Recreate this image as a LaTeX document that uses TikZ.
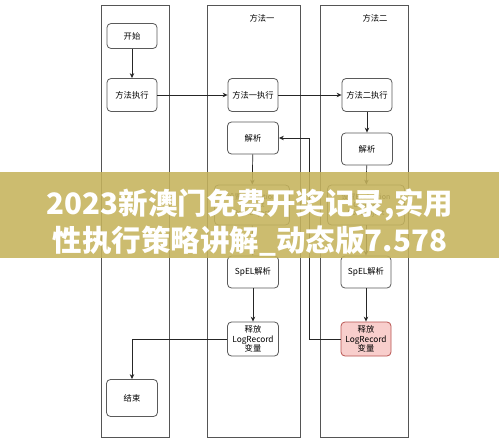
\documentclass[tikz,border=0pt]{standalone}
\usepackage{fontspec}
\setmainfont{Liberation Sans}
\newfontfamily\cjk{Noto Sans CJK SC}
\usetikzlibrary{arrows.meta}
\definecolor{laneline}{RGB}{85,85,85}
\definecolor{boxline}{RGB}{90,90,90}
\definecolor{pinkfill}{RGB}{248,206,204}
\definecolor{pinkline}{RGB}{184,84,80}
\definecolor{bannerc}{RGB}{197,179,92}
\begin{document}
\begin{tikzpicture}[x=1pt,y=-1pt,
  lane/.style={draw=laneline, line width=0.9pt, fill=white, inner sep=0pt},
  box/.style={draw=boxline, line width=0.8pt, rounded corners=4pt, fill=white, align=center,
    inner sep=1pt, font=\cjk\fontsize{8.3}{9.5}\selectfont},
  hot/.style={box, fill=pinkfill, draw=pinkline},
  title/.style={font=\cjk\fontsize{8.3}{9.5}\selectfont},
  arr/.style={-{Stealth[length=5pt,width=4.5pt]}, draw=black!85, line width=0.7pt},
  bantext/.style={text=white, font=\cjk\bfseries\fontsize{29.5}{31}\selectfont}]
\useasboundingbox (0,0) rectangle (499,444);
\fill[white] (0,0) rectangle (499,444);
% lanes
\node[lane, minimum width=68pt, minimum height=432pt] (L0) at (135,221) {};
\node[lane, minimum width=93pt, minimum height=432pt] (L1) at (253.5,221) {};
\node[lane, minimum width=88pt, minimum height=432pt] (L2) at (364,221) {};
\node[title] (T1) at (262,18) {方法一};
\node[title] (T2) at (375,18) {方法二};
% nodes
\node[box, minimum width=50pt, minimum height=25pt] (start) at (132,36) {开始};
\node[box, minimum width=50pt, minimum height=33pt] (exec) at (132,95) {方法执行};
\node[box, minimum width=50pt, minimum height=33pt] (m1) at (253,95) {方法一执行};
\node[box, minimum width=50pt, minimum height=33pt] (m2) at (367,95) {方法二执行};
\node[box, minimum width=51pt, minimum height=32pt] (p1) at (253,138) {解析};
\node[box, minimum width=51pt, minimum height=32pt] (p2) at (367,149) {解析};
\node[box, minimum width=75pt, minimum height=40pt, font=\cjk\fontsize{7}{8}\selectfont] (h1) at (252,205) {设置Evaluation\\Context\\RootObject};
\node[box, minimum width=77pt, minimum height=40pt, font=\cjk\fontsize{7}{8}\selectfont] (h2) at (366,205) {设置Evaluation\\Context\\RootObject};
\node[box, minimum width=51pt, minimum height=32pt] (s1) at (253,272) {SpEL解析};
\node[box, minimum width=50pt, minimum height=32pt] (s2) at (366,272) {SpEL解析};
\node[box, minimum width=51pt, minimum height=34pt] (r1) at (253,339) {释放\\LogRecord\\变量};
\node[hot, minimum width=50pt, minimum height=34pt] (r2) at (366,339) {释放\\LogRecord\\变量};
\node[box, minimum width=51pt, minimum height=37pt] (end) at (132,398) {结束};
% connectors
\draw[arr] (start) -- (exec);
\draw[arr] (exec) -- (m1);
\draw[arr] (m1) -- (m2);
\draw[arr] (m2) -- (p2);
\draw[arr] (p2) -- (h2);
\draw[arr] (h2) -- (s2);
\draw[arr] (s2) -- (r2);
\draw[arr] (r2.west) -- ++(-31,0) |- (p1.east);
\draw[arr] (p1) -- (h1);
\draw[arr] (h1) -- (s1);
\draw[arr] (s1) -- (r1);
\draw[arr] (r1.west) -| (end.north);
% banner
\fill[bannerc, fill opacity=0.88] (0,172) rectangle (499,258);
\node[bantext] (B1) at (250,205) {2023新澳门免费开奖记录,实用};
\node[bantext] (B2) at (250,241) {性执行策略讲解\_动态版7.578};
\end{tikzpicture}
\end{document}
